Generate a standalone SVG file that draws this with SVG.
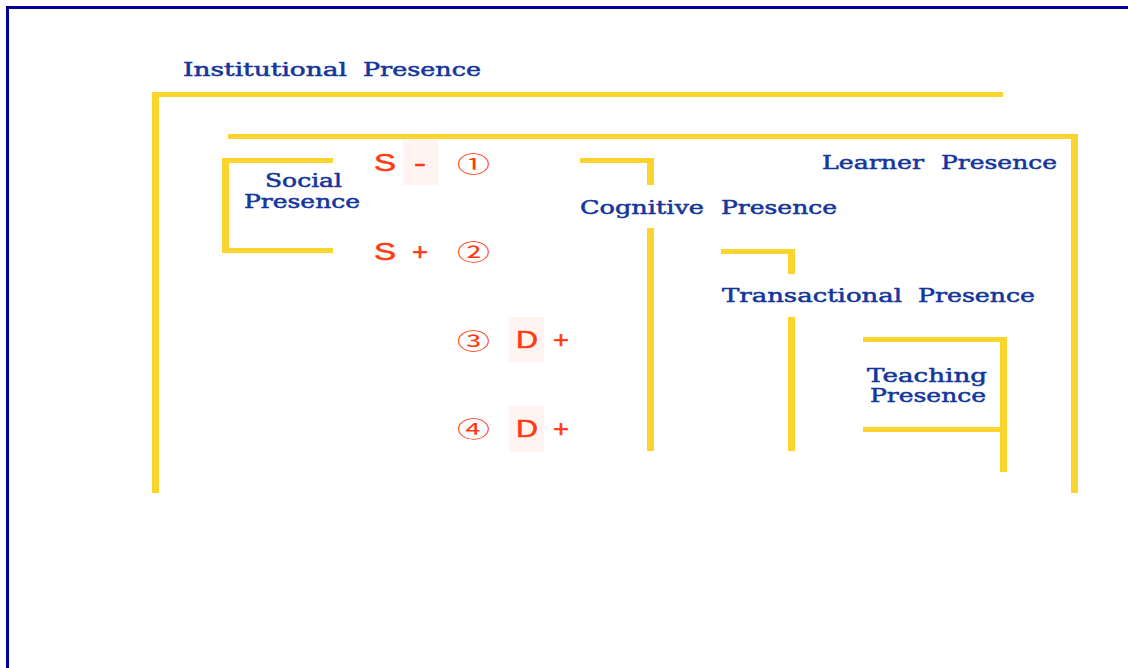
<svg xmlns="http://www.w3.org/2000/svg" width="1128" height="668" viewBox="0 0 1128 668">
<style>
.bar{fill:#fcd42e}
.lbl{font-family:"DejaVu Serif","Liberation Serif",serif;font-size:18px;fill:#14369b;stroke:#14369b;stroke-width:0.5}
.red{font-family:"Liberation Sans",Arial,sans-serif;font-size:23px;fill:#ff3a10;stroke:#ff3a10;stroke-width:0.5}
.circ{font-family:"Noto Sans CJK JP","DejaVu Sans",sans-serif;font-size:22px;fill:#ff3a10}
.pink{fill:#fff4f2}
</style>
<rect x="0" y="0" width="1128" height="668" fill="#ffffff"/>
<rect x="7.5" y="7.5" width="1130" height="670" fill="none" stroke="#000099" stroke-width="3"/>

<g id="institutional">
<rect class="bar" x="152" y="92" width="7" height="401"/>
<rect class="bar" x="152" y="92" width="851" height="5"/>
<text class="lbl" x="183" y="76" textLength="164" lengthAdjust="spacingAndGlyphs">Institutional</text>
<text class="lbl" x="363" y="76" textLength="118" lengthAdjust="spacingAndGlyphs">Presence</text>
</g>

<g id="learner">
<rect class="bar" x="228" y="134" width="850" height="5"/>
<rect class="bar" x="1071" y="134" width="7" height="359"/>
<text class="lbl" x="822" y="169" textLength="102" lengthAdjust="spacingAndGlyphs">Learner</text>
<text class="lbl" x="941" y="169" textLength="116" lengthAdjust="spacingAndGlyphs">Presence</text>
</g>

<g id="social">
<rect class="bar" x="222" y="158" width="7" height="95"/>
<rect class="bar" x="222" y="158" width="111" height="5"/>
<rect class="bar" x="222" y="248" width="111" height="5"/>
<text class="lbl" x="265" y="187" textLength="77" lengthAdjust="spacingAndGlyphs">Social</text>
<text class="lbl" x="244" y="208" textLength="116" lengthAdjust="spacingAndGlyphs">Presence</text>
</g>

<g id="cognitive">
<rect class="bar" x="580" y="158" width="74" height="5"/>
<rect class="bar" x="647" y="158" width="7" height="27"/>
<rect class="bar" x="647" y="228" width="7" height="223"/>
<text class="lbl" x="580" y="214" textLength="124" lengthAdjust="spacingAndGlyphs">Cognitive</text>
<text class="lbl" x="721" y="214" textLength="116" lengthAdjust="spacingAndGlyphs">Presence</text>
</g>

<g id="transactional">
<rect class="bar" x="721" y="249" width="74" height="5"/>
<rect class="bar" x="788" y="249" width="7" height="25"/>
<rect class="bar" x="788" y="317" width="7" height="134"/>
<text class="lbl" x="722" y="302" textLength="180" lengthAdjust="spacingAndGlyphs">Transactional</text>
<text class="lbl" x="918" y="302" textLength="117" lengthAdjust="spacingAndGlyphs">Presence</text>
</g>

<g id="teaching">
<rect class="bar" x="863" y="337" width="144" height="5"/>
<rect class="bar" x="1000" y="337" width="7" height="135"/>
<rect class="bar" x="863" y="427" width="140" height="5"/>
<text class="lbl" x="867" y="382" textLength="120" lengthAdjust="spacingAndGlyphs">Teaching</text>
<text class="lbl" x="870" y="402" textLength="116" lengthAdjust="spacingAndGlyphs">Presence</text>
</g>

<g id="row1">
<rect class="pink" x="403" y="140" width="35" height="45"/>
<text class="red" x="374" y="171" textLength="22" lengthAdjust="spacingAndGlyphs">S</text>
<text class="red" x="414" y="171" textLength="12" lengthAdjust="spacingAndGlyphs">-</text>
<text class="circ" x="457" y="171.5" textLength="33" lengthAdjust="spacingAndGlyphs">①</text>
</g>

<g id="row2">
<text class="red" x="374" y="260" textLength="22" lengthAdjust="spacingAndGlyphs">S</text>
<text class="red" x="412" y="260" textLength="16" lengthAdjust="spacingAndGlyphs">+</text>
<text class="circ" x="457" y="260" textLength="33" lengthAdjust="spacingAndGlyphs">②</text>
</g>

<g id="row3">
<rect class="pink" x="509" y="317" width="35" height="45"/>
<text class="circ" x="457" y="348.5" textLength="33" lengthAdjust="spacingAndGlyphs">③</text>
<text class="red" x="516" y="348" textLength="22" lengthAdjust="spacingAndGlyphs">D</text>
<text class="red" x="553" y="348" textLength="16" lengthAdjust="spacingAndGlyphs">+</text>
</g>

<g id="row4">
<rect class="pink" x="509" y="406" width="35" height="46"/>
<text class="circ" x="457" y="437" textLength="33" lengthAdjust="spacingAndGlyphs">④</text>
<text class="red" x="516" y="437" textLength="22" lengthAdjust="spacingAndGlyphs">D</text>
<text class="red" x="553" y="437" textLength="16" lengthAdjust="spacingAndGlyphs">+</text>
</g>

<g id="connectors"></g>
</svg>
